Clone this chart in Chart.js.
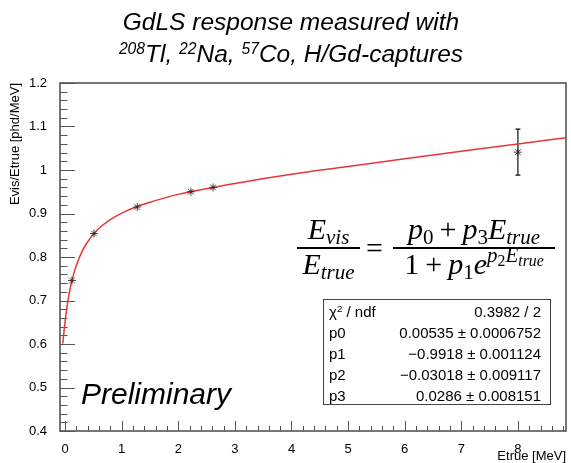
<!DOCTYPE html>
<html>
<head>
<meta charset="utf-8">
<script src="https://cdn.jsdelivr.net/npm/chart.js@4.4.0/dist/chart.umd.min.js"></script>
<style>
  body { margin: 0; background: #fff; }
  #wrap { position: relative; width: 571px; height: 463px; overflow: hidden;
          font-family: "Liberation Sans", Arial, sans-serif; color: #000; }
  #grafico { position: absolute; left: 0; top: 0; }
  #titulo { position: absolute; left: 0; top: 6px; width: 582px; text-align: center;
            font-style: italic; font-size: 24.5px; line-height: 32px; white-space: nowrap; }
  #titulo sup { font-size: 0.64em; vertical-align: baseline; position: relative; top: -0.5em; }
  #prelim { position: absolute; left: 81px; top: 376px; font-style: italic; font-size: 30px; line-height: 36px; }
  .frac { position: absolute; top: 213px; display: flex; flex-direction: column; text-align: center;
          font-family: "Liberation Serif", "Times New Roman", serif; font-size: 30px; white-space: nowrap; }
  .frac .num { border-bottom: 2px solid #000; line-height: 31px; padding-bottom: 3px; }
  .frac .den { line-height: 30px; }
  .frac i { font-style: italic; }
  .frac sub { font-size: 0.7em; vertical-align: -0.25em; line-height: 0; }
  .frac sup { font-size: 0.7em; vertical-align: 0.55em; line-height: 0; }
  .frac sup sub { font-size: 0.75em; }
  .op { margin: 0 0.2em; }
  #igual { position: absolute; left: 366px; top: 231px; font-family: "Liberation Serif", serif;
           font-size: 30px; line-height: 34px; }
  #stats { position: absolute; left: 323px; top: 299px; width: 228px; height: 106px; box-sizing: border-box;
           border: 1px solid #444; padding: 0.5px 9px 0 5px; font-size: 15px; background: #fff; }
  #stats .row { display: flex; justify-content: space-between; line-height: 21px; white-space: nowrap; }
  #stats sup { font-size: 0.65em; vertical-align: 0.5em; line-height: 0; }
</style>
</head>
<body>
<div id="wrap">
  <canvas id="grafico" width="571" height="463"></canvas>
  <div id="titulo">GdLS response measured with<br><sup>208</sup>Tl, <sup>22</sup>Na, <sup>57</sup>Co, H/Gd-captures</div>
  <div class="frac" style="left:297px; width:63px;">
    <div class="num"><i>E</i><sub><i>vis</i></sub></div>
    <div class="den"><i>E</i><sub><i>true</i></sub></div>
  </div>
  <div id="igual">=</div>
  <div class="frac" style="left:393px; width:162px;">
    <div class="num"><i>p</i><sub>0</sub><span class="op">+</span><i>p</i><sub>3</sub><i>E</i><sub><i>true</i></sub></div>
    <div class="den">1<span class="op">+</span><i>p</i><sub>1</sub><i>e</i><sup><i>p</i><sub>2</sub><i>E</i><sub><i>true</i></sub></sup></div>
  </div>
  <div id="stats">
    <div class="row"><span>χ<sup>2</sup> / ndf</span><span>0.3982 / 2</span></div>
    <div class="row"><span>p0</span><span>0.00535 ± 0.0006752</span></div>
    <div class="row"><span>p1</span><span>−0.9918 ± 0.001124</span></div>
    <div class="row"><span>p2</span><span>−0.03018 ± 0.009117</span></div>
    <div class="row"><span>p3</span><span>0.0286 ± 0.008151</span></div>
  </div>
  <div id="prelim">Preliminary</div>
</div>
<script>
// calibration points: 57Co, 22Na (511 keV, 1275 keV), H capture, 208Tl, Gd capture
const energias = [0.122, 0.511, 1.275, 2.223, 2.614, 8.0];
const resposta = [0.746, 0.854, 0.915, 0.950, 0.960, 1.041];
const erroResp = [0.003, 0.003, 0.003, 0.003, 0.003, 0.053];

// fitted curve (p0..p3 from the stats box)
const ajusteE   = [-0.04, -0.02, 0, 0.025, 0.05, 0.1, 0.15, 0.2, 0.3, 0.4, 0.5, 0.6, 0.8, 1.0,
                   1.25, 1.5, 2.0, 2.5, 3, 4, 5, 6, 7, 8, 8.85];
const ajusteVal = [0.601, 0.629, 0.652, 0.678, 0.699, 0.734, 0.760, 0.781, 0.813, 0.835, 0.852, 0.866, 0.886, 0.901,
                   0.915, 0.926, 0.944, 0.957, 0.969, 0.990, 1.008, 1.026, 1.043, 1.060, 1.074];

const yTicks = [0.4, 0.5, 0.6, 0.7, 0.8, 0.9, 1.0, 1.1, 1.2];

const fonte = '"Liberation Sans", Arial, sans-serif';
const cinza = '#555';

// ROOT-like frame: inward ticks, axis titles at the end of each axis, error bars
const marcasRoot = {
  id: 'marcasRoot',
  beforeDatasetsDraw(chart) {
    const { ctx, chartArea: a, scales: { x, y } } = chart;
    ctx.save();
    ctx.strokeStyle = cinza;
    ctx.lineWidth = 1;
    ctx.beginPath();
    for (let i = Math.ceil(x.min / 0.2); i * 0.2 <= x.max + 1e-9; i++) {
      const px = Math.round(x.getPixelForValue(i * 0.2)) + 0.5;
      const len = i % 5 === 0 ? 10 : 5;
      ctx.moveTo(px, a.bottom);
      ctx.lineTo(px, a.bottom - len);
    }
    for (let j = Math.ceil(y.min / 0.02 - 1e-6); j * 0.02 <= y.max + 1e-9; j++) {
      const py = Math.round(y.getPixelForValue(j * 0.02)) + 0.5;
      const len = j % 5 === 0 ? 15 : 7.5;
      ctx.moveTo(a.left, py);
      ctx.lineTo(a.left + len, py);
    }
    ctx.stroke();
    ctx.lineWidth = 1.6;
    ctx.strokeRect(a.left, a.top, a.right - a.left, a.bottom - a.top);

    // error bars
    ctx.strokeStyle = '#111';
    ctx.lineWidth = 1.2;
    ctx.beginPath();
    energias.forEach((e, i) => {
      const px = x.getPixelForValue(e);
      const top = y.getPixelForValue(resposta[i] + erroResp[i]);
      const bot = y.getPixelForValue(resposta[i] - erroResp[i]);
      ctx.moveTo(px, top); ctx.lineTo(px, bot);
      if (bot - top > 8) {
        ctx.moveTo(px - 2.5, top); ctx.lineTo(px + 2.5, top);
        ctx.moveTo(px - 2.5, bot); ctx.lineTo(px + 2.5, bot);
      }
    });
    ctx.stroke();
    ctx.restore();
  },
  afterDraw(chart) {
    const { ctx, chartArea: a } = chart;
    ctx.save();
    ctx.fillStyle = '#000';
    ctx.font = '13px ' + fonte;
    ctx.textAlign = 'right';
    ctx.textBaseline = 'middle';
    ctx.fillText('Etrue [MeV]', a.right, 456);
    ctx.translate(15, a.top);
    ctx.rotate(-Math.PI / 2);
    ctx.fillText('Evis/Etrue [phd/MeV]', 0, 0);
    ctx.restore();
  }
};

const grafico = new Chart(document.getElementById('grafico'), {
  type: 'scatter',
  data: {
    datasets: [{
      label: 'dados',
      data: energias.map((e, i) => ({ x: e, y: resposta[i] })),
      showLine: false,
      pointStyle: 'star',
      pointRadius: 4,
      borderColor: 'rgba(40,40,40,0.85)',
      backgroundColor: '#000',
      borderWidth: 1
    }, {
      label: 'ajuste',
      data: ajusteE.map((e, i) => ({ x: e, y: ajusteVal[i] })),
      showLine: true,
      pointRadius: 0,
      borderColor: 'rgb(228,56,56)',
      borderWidth: 1.5,
      cubicInterpolationMode: 'monotone'
    }]
  },
  options: {
    responsive: false,
    animation: false,
    layout: { padding: { top: 83, right: 1, left: 0, bottom: 0 } },
    plugins: { legend: { display: false }, tooltip: { enabled: false } },
    scales: {
      x: {
        type: 'linear', min: -0.09, max: 8.85,
        afterFit(s) { s.height = 32; },
        grid: { display: false }, border: { display: false },
        ticks: { stepSize: 1, includeBounds: false, autoSkip: false, maxRotation: 0, padding: 3,
                 color: '#000', font: { family: fonte, size: 13 } }
      },
      y: {
        type: 'linear', min: 0.4, max: 1.2,
        afterFit(s) { s.width = 60; },
        afterBuildTicks(s) { s.ticks = yTicks.map(v => ({ value: v })); },
        grid: { display: false }, border: { display: false },
        ticks: { padding: 5, color: '#000', font: { family: fonte, size: 13 },
                 callback: v => String(+v.toFixed(2)) }
      }
    }
  },
  plugins: [marcasRoot]
});
</script>
</body>
</html>
